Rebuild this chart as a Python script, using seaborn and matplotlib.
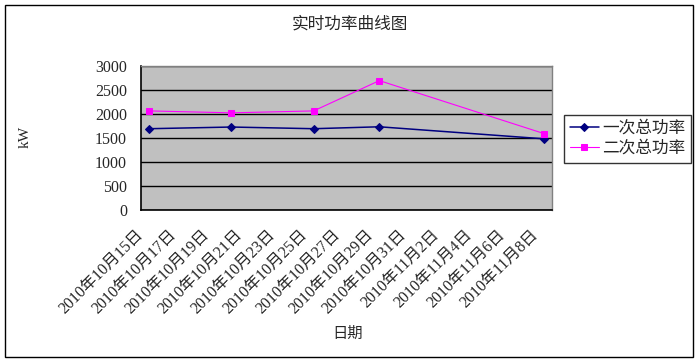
import pandas as pd
import matplotlib
matplotlib.use("Agg")
import matplotlib.pyplot as plt
import matplotlib.dates as mdates
import matplotlib.transforms as mtransforms
from matplotlib.patches import Rectangle
import seaborn as sns

# data
dates = ["2010-10-15", "2010-10-20", "2010-10-25", "2010-10-29", "2010-11-08"]
power_1 = [1690, 1725, 1690, 1730, 1480]   # 一次总功率
power_2 = [2060, 2020, 2060, 2690, 1590]   # 二次总功率
tick_dates = pd.date_range("2010-10-15", "2010-11-08", freq="2D")
tick_labels = ["2010年10月15日", "2010年10月17日", "2010年10月19日", "2010年10月21日",
               "2010年10月23日", "2010年10月25日", "2010年10月27日", "2010年10月29日",
               "2010年10月31日", "2010年11月2日", "2010年11月4日", "2010年11月6日",
               "2010年11月8日"]
y_ticks = [0, 500, 1000, 1500, 2000, 2500, 3000]

df = pd.DataFrame({"date": pd.to_datetime(dates), "p1": power_1, "p2": power_2})

sns.set_style("white")
plt.rcParams['font.family'] = ['Liberation Serif', 'Noto Sans CJK SC']

fig = plt.figure(figsize=(7, 3.62), dpi=100)
ax = fig.add_axes([141 / 700, 1 - 210 / 362, 411 / 700, 144.3 / 362])
ax.set_facecolor("#C0C0C0")

sns.lineplot(data=df, x="date", y="p1", ax=ax, color="#000080", linewidth=1.1,
             marker="D", markersize=4.5, markeredgecolor="#000080", label="一次总功率")
sns.lineplot(data=df, x="date", y="p2", ax=ax, color="#FF00FF", linewidth=0.8,
             marker="s", markersize=5, markeredgecolor="#FF00FF", label="二次总功率")

# y axis
ax.set_ylim(0, 3000)
ax.set_yticks(y_ticks)
ax.yaxis.grid(True, color="black", linewidth=1)
ax.tick_params(axis="y", length=0, labelsize=11.5, pad=10)

# x axis: daily categories, labels every 2 days
start = pd.Timestamp("2010-10-15") - pd.Timedelta(hours=12)
end = pd.Timestamp("2010-11-08") + pd.Timedelta(hours=12)
ax.set_xlim(start, end)
ax.set_xticks(mdates.date2num(tick_dates))
ax.set_xticklabels(tick_labels, rotation=45, ha="right", va="top",
                   rotation_mode="anchor", fontsize=11.5)
ax.tick_params(axis="x", length=0, pad=12)
shift = mtransforms.ScaledTranslation(-14 / 100, 0, fig.dpi_scale_trans)
for lab in ax.get_xticklabels():
    lab.set_transform(lab.get_transform() + shift)
minor = pd.date_range(start + pd.Timedelta(days=2), end, freq="2D")
ax.set_xticks(mdates.date2num(minor), minor=True)
ax.tick_params(axis="x", which="minor", direction="in", length=4, width=1, color="black")
ax.set_xlabel("")
ax.set_ylabel("")

for side in ["top", "right"]:
    ax.spines[side].set_color("#808080")
    ax.spines[side].set_linewidth(1)
for side in ["left", "bottom"]:
    ax.spines[side].set_color("black")
    ax.spines[side].set_linewidth(1.2)

ax.get_legend().remove()
handles, labels = ax.get_legend_handles_labels()
leg = fig.legend(handles, labels, loc="upper left", bbox_to_anchor=(564 / 700, 1 - 115 / 362),
                 frameon=True, fancybox=False, fontsize=12, handlelength=1.75,
                 borderpad=0.35, labelspacing=0.25, handletextpad=0.2, borderaxespad=0)
leg.get_frame().set_edgecolor("black")
leg.get_frame().set_linewidth(1)

fig.text(0.5, 1 - 25 / 362, "实时功率曲线图", ha="center", va="center", fontsize=12)
fig.text(25.5 / 700, 1 - 137 / 362, "kW", rotation=90, ha="center", va="center", fontsize=11)
fig.text(347.5 / 700, 1 - 334 / 362, "日期", ha="center", va="center", fontsize=11)

fig.patches.append(Rectangle((5 / 700, 5 / 362), 688 / 700, 352 / 362, transform=fig.transFigure,
                             fill=False, edgecolor="black", linewidth=1))

fig.savefig("out.png", dpi=100)
